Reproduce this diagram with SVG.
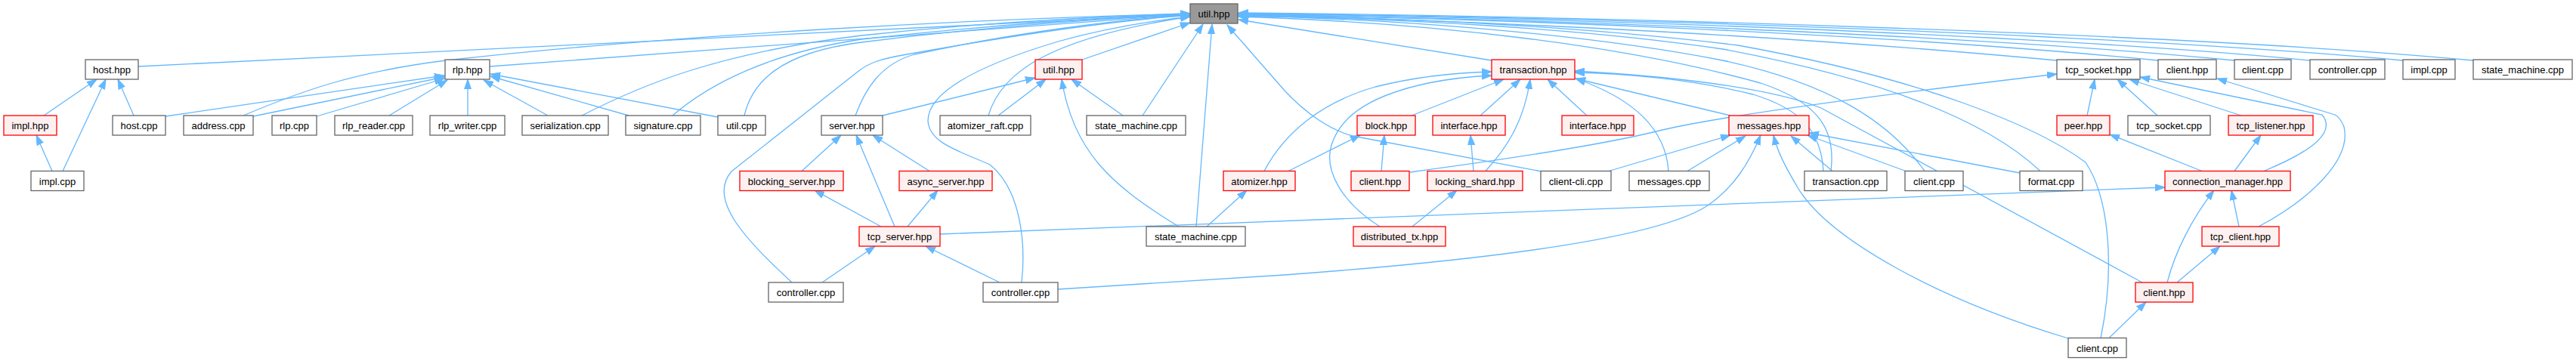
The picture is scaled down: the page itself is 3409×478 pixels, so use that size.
<svg xmlns="http://www.w3.org/2000/svg" width="3409" height="478" viewBox="0 0 3409 478">
<style>
.n rect{fill:#fff;stroke:#666;stroke-width:1.3}
.r rect{fill:#fff0f0;stroke:#f00;stroke-width:1.3}
.root rect{fill:#999;stroke:#666;stroke-width:1.3}
text{font-family:"Liberation Sans",Arial,sans-serif;font-size:13px;text-anchor:middle;fill:#000}
#edges path{fill:none;stroke:#63b8ff;stroke-width:1.3;marker-end:url(#ah)}
</style>
<defs>
<marker id="ah" markerUnits="userSpaceOnUse" markerWidth="14" markerHeight="10" viewBox="0 0 14 10" refX="13" refY="5" orient="auto"><path d="M0,0.5 L13,5 L0,9.5 z" fill="#63b8ff" stroke="#63b8ff"/></marker>
</defs>
<rect width="3409" height="478" fill="#fff"/>
<g id="edges">
<path d="M58,153 L128,105"/>
<path d="M83,226.5 L140,105"/>
<path d="M69,226.5 L48,179"/>
<path d="M177,153 L156,105"/>
<path d="M183,88 L1575,19"/>
<path d="M219,154 L588,100"/>
<path d="M335,154 L588,102"/>
<path d="M419,154 L588,104"/>
<path d="M515,153 L592,106"/>
<path d="M619,153 L619,105"/>
<path d="M725,153 L640,106"/>
<path d="M832,153 L649,101"/>
<path d="M950,155 L649,98"/>
<path d="M322,153 C400,120 470,95 590,80 C900,45 1300,25 1575,18"/>
<path d="M648,88 L1575,19"/>
<path d="M770,153 C850,112 950,70 1140,47 C1300,30 1450,22 1575,18"/>
<path d="M890,153 C940,110 1020,70 1140,52 C1300,34 1450,24 1575,18"/>
<path d="M985,153 C995,110 1030,70 1140,56 C1300,36 1450,25 1575,19"/>
<path d="M1048,374 C990,320 935,265 968,227 L1135,95 C1150,83 1165,78 1200,72 C1350,45 1480,27 1575,20"/>
<path d="M1132,153 C1145,118 1165,85 1210,72 C1350,42 1480,26 1575,20"/>
<path d="M1168,153 L1370,103"/>
<path d="M1352,374 C1358,320 1350,250 1310,218 C1270,200 1230,190 1228,160 C1228,120 1300,85 1400,55 C1460,38 1520,28 1575,22"/>
<path d="M1308,153 C1325,95 1390,50 1575,22"/>
<path d="M1321,153 L1384,105"/>
<path d="M1432,79 L1575,30"/>
<path d="M1486,153 L1418,105"/>
<path d="M1512,153 L1592,32"/>
<path d="M1583,300 L1604,32"/>
<path d="M1560,300 C1470,245 1420,200 1405,105"/>
<path d="M1597,300 L1650,252"/>
<path d="M1184,300 L1133,179"/>
<path d="M1166,300 L1078,252"/>
<path d="M1201,300 L1241,252"/>
<path d="M1061,226.5 L1113,179"/>
<path d="M1230,226.5 L1155,179"/>
<path d="M1088,374 L1158,326"/>
<path d="M1323,374 L1225,326"/>
<path d="M1244,310 L2865,248"/>
<path d="M1400,383 L1700,364 C2000,342 2200,312 2260,272 C2295,248 2315,215 2330,179"/>
<path d="M1673,226.5 C1700,175 1750,135 1820,115 C1880,100 1930,96 1974,95"/>
<path d="M1826,300 C1775,268 1752,225 1762,192 C1775,150 1820,125 1890,110 C1920,104 1950,101 1974,100"/>
<path d="M1868,153 L1990,105"/>
<path d="M1959,153 L2012,105"/>
<path d="M1966,226.5 C1995,195 2017,160 2025,105"/>
<path d="M2100,153 L2048,105"/>
<path d="M2208,226.5 C2205,180 2175,135 2085,104"/>
<path d="M2290,153 L2085,104"/>
<path d="M2413,226.5 C2410,175 2385,145 2320,125 C2240,105 2150,97 2084,96"/>
<path d="M2835,374 L2410,143 C2340,115 2200,100 2084,94"/>
<path d="M1974,80 L1639,26"/>
<path d="M1705,226.5 L1800,179"/>
<path d="M1828,226.5 L1832,179"/>
<path d="M1950,226.5 L1946,179"/>
<path d="M1869,300 L1928,252"/>
<path d="M2040,227 L1790,180 C1760,172 1728,150 1700,120 L1624,33"/>
<path d="M2129,226.5 L2290,179"/>
<path d="M2233,226.5 L2310,180"/>
<path d="M1866,228 C2000,210 2130,190 2200,172 C2260,158 2400,136 2722,98"/>
<path d="M2425,226.5 L2370,180"/>
<path d="M2522,226.5 L2392,179"/>
<path d="M2673,229 L2394,176"/>
<path d="M2737,448 C2560,395 2420,315 2380,250 C2362,220 2352,200 2347,179"/>
<path d="M2423,226.5 C2430,170 2405,135 2330,110 C2150,60 1900,30 1639,22"/>
<path d="M2547,226.5 C2500,160 2420,110 2280,80 C2100,45 1850,25 1639,21"/>
<path d="M2700,226.5 C2640,170 2520,110 2280,65 C2100,38 1850,24 1639,21"/>
<path d="M2780,448 C2800,350 2790,260 2760,215 C2700,170 2550,105 2300,60 C2100,35 1850,23 1639,20"/>
<path d="M2722,80 C2400,50 2000,28 1639,20"/>
<path d="M2856,80 C2500,45 2000,25 1639,19"/>
<path d="M2957,80 C2600,45 2000,24 1639,19"/>
<path d="M3057,80 C2700,45 2050,23 1639,18"/>
<path d="M3180,80 C2800,45 2100,22 1639,18"/>
<path d="M3273,80 C2900,45 2150,22 1639,17"/>
<path d="M2762,153 L2772,105"/>
<path d="M2855,153 L2802,105"/>
<path d="M2966,153 L2818,105"/>
<path d="M2996,226.5 C3060,200 3092,175 3073,152 L2832,102"/>
<path d="M2914,226.5 L2792,178"/>
<path d="M2957,226.5 L2992,179"/>
<path d="M2963,300 L2953,252"/>
<path d="M2868,374 C2878,335 2900,290 2930,252"/>
<path d="M2881,374 L2938,326"/>
<path d="M2791,447.5 L2840,400"/>
<path d="M2989,300 C3060,262 3112,210 3102,168 C3098,158 3094,154 3090,152 L2934,104"/>
</g>
<g id="n_root" class="root"><rect x="1575" y="5" width="63" height="26"/><text x="1606.5" y="23">util.hpp</text></g>
<g id="n_host_hpp" class="n"><rect x="113" y="79" width="70" height="26"/><text x="148" y="97">host.hpp</text></g>
<g id="n_rlp_hpp" class="n"><rect x="589" y="79" width="59" height="26"/><text x="618.5" y="97">rlp.hpp</text></g>
<g id="n_util_hpp2" class="r"><rect x="1370" y="79" width="62" height="26"/><text x="1401" y="97">util.hpp</text></g>
<g id="n_transaction_hpp" class="r"><rect x="1974" y="79" width="110" height="26"/><text x="2029" y="97">transaction.hpp</text></g>
<g id="n_tcp_socket_hpp" class="n"><rect x="2722" y="79" width="110" height="26"/><text x="2777" y="97">tcp_socket.hpp</text></g>
<g id="n_client_hpp1" class="n"><rect x="2856" y="79" width="77" height="26"/><text x="2894.5" y="97">client.hpp</text></g>
<g id="n_client_cpp1" class="n"><rect x="2957" y="79" width="75" height="26"/><text x="2994.5" y="97">client.cpp</text></g>
<g id="n_controller_cpp1" class="n"><rect x="3057" y="79" width="99" height="26"/><text x="3106.5" y="97">controller.cpp</text></g>
<g id="n_impl_cpp1" class="n"><rect x="3180" y="79" width="69" height="26"/><text x="3214.5" y="97">impl.cpp</text></g>
<g id="n_state_machine_cpp1" class="n"><rect x="3273" y="79" width="131" height="26"/><text x="3338.5" y="97">state_machine.cpp</text></g>
<g id="n_impl_hpp" class="r"><rect x="5" y="153" width="70" height="26"/><text x="40" y="171">impl.hpp</text></g>
<g id="n_host_cpp" class="n"><rect x="149" y="153" width="70" height="26"/><text x="184" y="171">host.cpp</text></g>
<g id="n_address_cpp" class="n"><rect x="243" y="153" width="92" height="26"/><text x="289" y="171">address.cpp</text></g>
<g id="n_rlp_cpp" class="n"><rect x="360" y="153" width="59" height="26"/><text x="389.5" y="171">rlp.cpp</text></g>
<g id="n_rlp_reader_cpp" class="n"><rect x="443" y="153" width="103" height="26"/><text x="494.5" y="171">rlp_reader.cpp</text></g>
<g id="n_rlp_writer_cpp" class="n"><rect x="569" y="153" width="99" height="26"/><text x="618.5" y="171">rlp_writer.cpp</text></g>
<g id="n_serialization_cpp" class="n"><rect x="691" y="153" width="114" height="26"/><text x="748" y="171">serialization.cpp</text></g>
<g id="n_signature_cpp" class="n"><rect x="828" y="153" width="99" height="26"/><text x="877.5" y="171">signature.cpp</text></g>
<g id="n_util_cpp" class="n"><rect x="950" y="153" width="63" height="26"/><text x="981.5" y="171">util.cpp</text></g>
<g id="n_server_hpp" class="n"><rect x="1087" y="153" width="81" height="26"/><text x="1127.5" y="171">server.hpp</text></g>
<g id="n_atomizer_raft_cpp" class="n"><rect x="1244" y="153" width="120" height="26"/><text x="1304" y="171">atomizer_raft.cpp</text></g>
<g id="n_state_machine_cpp2" class="n"><rect x="1438" y="153" width="131" height="26"/><text x="1503.5" y="171">state_machine.cpp</text></g>
<g id="n_block_hpp" class="r"><rect x="1796" y="153" width="77" height="26"/><text x="1834.5" y="171">block.hpp</text></g>
<g id="n_interface_hpp1" class="r"><rect x="1896" y="153" width="96" height="26"/><text x="1944" y="171">interface.hpp</text></g>
<g id="n_interface_hpp2" class="r"><rect x="2067" y="153" width="95" height="26"/><text x="2114.5" y="171">interface.hpp</text></g>
<g id="n_messages_hpp" class="r"><rect x="2288" y="153" width="106" height="26"/><text x="2341" y="171">messages.hpp</text></g>
<g id="n_peer_hpp" class="r"><rect x="2722" y="153" width="70" height="26"/><text x="2757" y="171">peer.hpp</text></g>
<g id="n_tcp_socket_cpp" class="n"><rect x="2816" y="153" width="109" height="26"/><text x="2870.5" y="171">tcp_socket.cpp</text></g>
<g id="n_tcp_listener_hpp" class="r"><rect x="2949" y="153" width="112" height="26"/><text x="3005" y="171">tcp_listener.hpp</text></g>
<g id="n_impl_cpp" class="n"><rect x="41" y="226.5" width="70" height="26"/><text x="76" y="244.5">impl.cpp</text></g>
<g id="n_blocking_server_hpp" class="r"><rect x="979" y="226.5" width="137" height="26"/><text x="1047.5" y="244.5">blocking_server.hpp</text></g>
<g id="n_async_server_hpp" class="r"><rect x="1190" y="226.5" width="123" height="26"/><text x="1251.5" y="244.5">async_server.hpp</text></g>
<g id="n_atomizer_hpp" class="r"><rect x="1619" y="226.5" width="95" height="26"/><text x="1666.5" y="244.5">atomizer.hpp</text></g>
<g id="n_client_hpp3" class="r"><rect x="1788" y="226.5" width="77" height="26"/><text x="1826.5" y="244.5">client.hpp</text></g>
<g id="n_locking_shard_hpp" class="r"><rect x="1889" y="226.5" width="126" height="26"/><text x="1952" y="244.5">locking_shard.hpp</text></g>
<g id="n_client_cli_cpp" class="n"><rect x="2039" y="226.5" width="93" height="26"/><text x="2085.5" y="244.5">client-cli.cpp</text></g>
<g id="n_messages_cpp" class="n"><rect x="2156" y="226.5" width="106" height="26"/><text x="2209" y="244.5">messages.cpp</text></g>
<g id="n_transaction_cpp" class="n"><rect x="2388" y="226.5" width="109" height="26"/><text x="2442.5" y="244.5">transaction.cpp</text></g>
<g id="n_client_cpp3" class="n"><rect x="2521" y="226.5" width="77" height="26"/><text x="2559.5" y="244.5">client.cpp</text></g>
<g id="n_format_cpp" class="n"><rect x="2673" y="226.5" width="83" height="26"/><text x="2714.5" y="244.5">format.cpp</text></g>
<g id="n_connection_manager_hpp" class="r"><rect x="2865" y="226.5" width="166" height="26"/><text x="2948" y="244.5">connection_manager.hpp</text></g>
<g id="n_tcp_server_hpp" class="r"><rect x="1137" y="300" width="107" height="26"/><text x="1190.5" y="318">tcp_server.hpp</text></g>
<g id="n_state_machine_cpp4" class="n"><rect x="1517" y="300" width="131" height="26"/><text x="1582.5" y="318">state_machine.cpp</text></g>
<g id="n_distributed_tx_hpp" class="r"><rect x="1791" y="300" width="122" height="26"/><text x="1852" y="318">distributed_tx.hpp</text></g>
<g id="n_tcp_client_hpp" class="r"><rect x="2914" y="300" width="102" height="26"/><text x="2965" y="318">tcp_client.hpp</text></g>
<g id="n_controller_cpp5a" class="n"><rect x="1017" y="374" width="99" height="26"/><text x="1066.5" y="392">controller.cpp</text></g>
<g id="n_controller_cpp5b" class="n"><rect x="1301" y="374" width="99" height="26"/><text x="1350.5" y="392">controller.cpp</text></g>
<g id="n_client_hpp5" class="r"><rect x="2826" y="374" width="76" height="26"/><text x="2864" y="392">client.hpp</text></g>
<g id="n_client_cpp6" class="n"><rect x="2737" y="447.5" width="77" height="26"/><text x="2775.5" y="465.5">client.cpp</text></g>
</svg>
